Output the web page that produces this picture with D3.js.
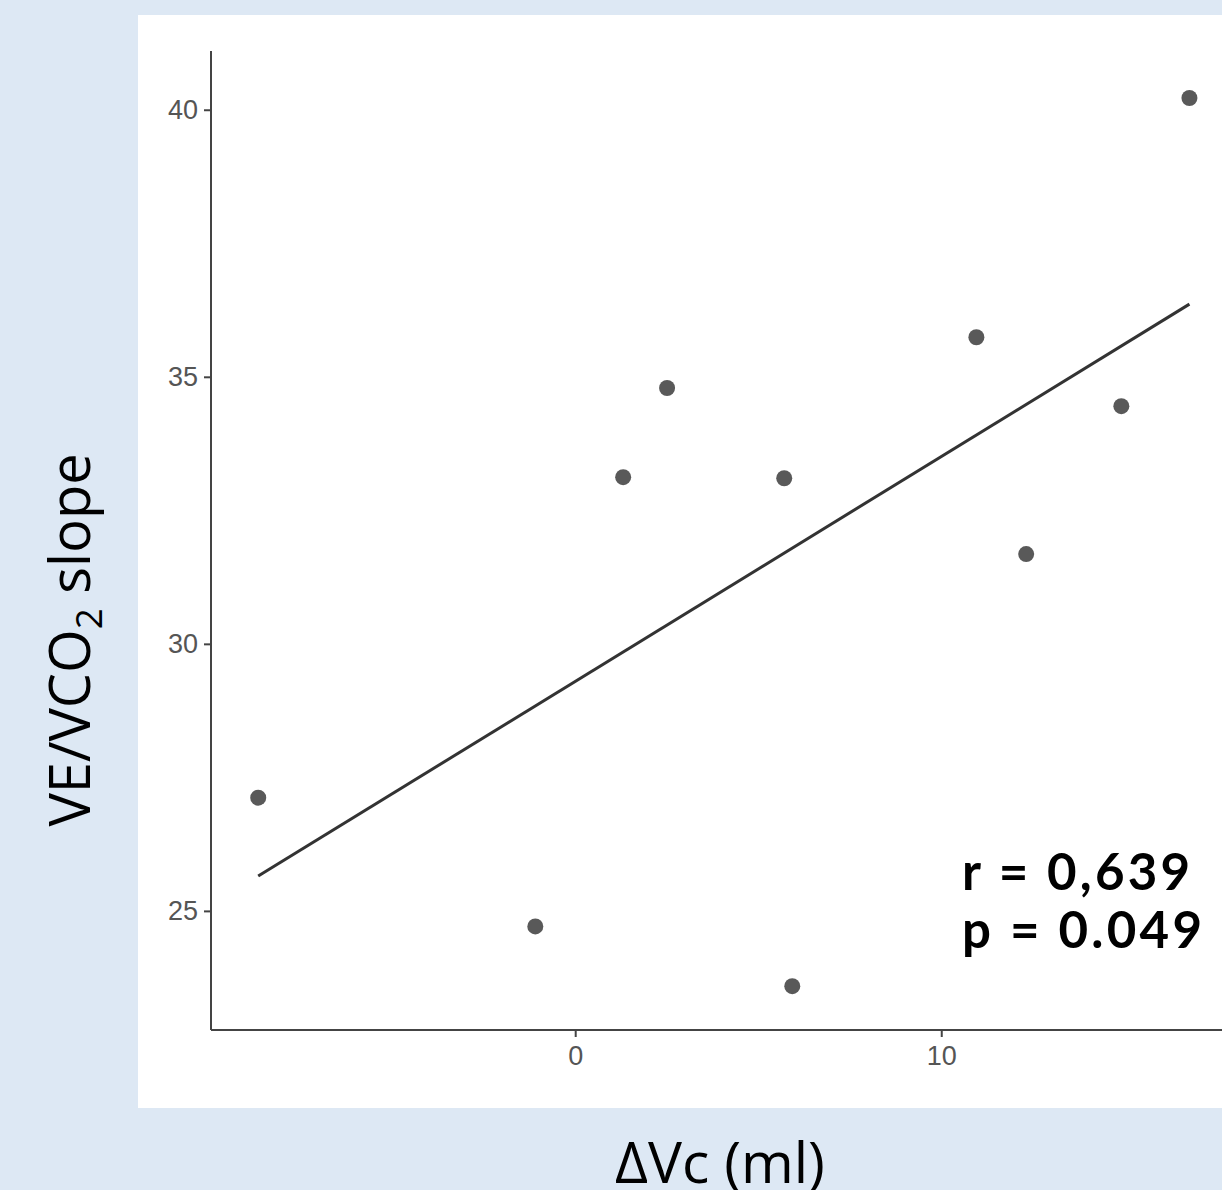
<!DOCTYPE html>
<html><head><meta charset="utf-8">
<script src="https://cdn.jsdelivr.net/npm/d3@7"></script>
<style>html,body{margin:0;padding:0;background:#dde8f4;}</style>
</head><body>
<svg id="c" width="1222" height="1190"></svg>
<script>
const deltaVc = [-8.66, -1.09, 1.31, 2.51, 5.71, 5.93, 10.96, 12.32, 14.92, 16.78];
const veVco2Slope = [27.12, 24.71, 33.12, 34.79, 33.10, 23.59, 35.74, 31.68, 34.45, 40.22];
const xTicks = [0, 10];
const yTicks = [25, 30, 35, 40];
const statLines = ["r = 0,639", "p = 0.049"];

const svg = d3.select("#c");
svg.append("rect").attr("width",1222).attr("height",1190).attr("fill","#dde8f4");
svg.append("rect").attr("x",138).attr("y",15).attr("width",1084).attr("height",1093).attr("fill","#fff");

const x = d3.scaleLinear().domain([-9.95, 17.67]).range([211, 1222]);
const y = d3.scaleLinear().domain([22.77, 41.1]).range([1030, 51]);

const data = deltaVc.map((d,i)=>({x:d,y:veVco2Slope[i]}));
const mx = d3.mean(deltaVc), my = d3.mean(veVco2Slope);
const sxy = d3.sum(data, d=>(d.x-mx)*(d.y-my));
const sxx = d3.sum(data, d=>(d.x-mx)*(d.x-mx));
const b = sxy/sxx, a = my - b*mx;
const ext = d3.extent(deltaVc);

const yAxis = d3.axisLeft(y).tickValues(yTicks).tickSize(7).tickPadding(6);
const gy = svg.append("g").attr("transform","translate(211,0)").call(yAxis);
const xAxis = d3.axisBottom(x).tickValues(xTicks).tickSize(7).tickPadding(9);
const gx = svg.append("g").attr("transform","translate(0,1030)").call(xAxis);
[gx,gy].forEach(g=>{
  g.attr("font-size",null);
  g.select(".domain").attr("stroke","#444").attr("stroke-width",2);
  g.selectAll(".tick line").attr("stroke","#444").attr("stroke-width",2);
  g.selectAll(".tick text").attr("fill","#555").style("font-family","Liberation Sans, Arial, sans-serif").style("font-size","27px");
});
gy.select(".domain").attr("d","M0,51V1030");
gx.select(".domain").attr("d","M211,0H1222");

svg.append("line")
  .attr("x1",x(ext[0])).attr("y1",y(a+b*ext[0]))
  .attr("x2",x(ext[1])).attr("y2",y(a+b*ext[1]))
  .attr("stroke","#333").attr("stroke-width",3);

svg.append("g").selectAll("circle").data(data).join("circle")
  .attr("cx",d=>x(d.x)).attr("cy",d=>y(d.y)).attr("r",8).attr("fill","#595959");

const statW = [228, 240];
svg.append("g").selectAll("text").data(statLines).join("text")
  .attr("x",962).attr("y",(d,i)=>890+i*58)
  .attr("textLength",(d,i)=>statW[i]).attr("lengthAdjust","spacing")
  .style("font-family","Lato, Open Sans, sans-serif").style("font-weight","bold").style("font-size","51px")
  .attr("fill","#000").text(d=>d);

svg.append("text").attr("x",720).attr("y",1183).attr("text-anchor","middle")
  .style("font-family","Open Sans, sans-serif").style("font-size","57px").attr("fill","#000").text("ΔVc (ml)");

const yl = svg.append("text").attr("transform","translate(90,640) rotate(-90)").attr("text-anchor","middle")
  .style("font-family","Open Sans, sans-serif").style("font-size","56px").attr("fill","#000");
yl.append("tspan").text("VE/VCO");
yl.append("tspan").style("font-size","37px").attr("dy",12).text("2");
yl.append("tspan").attr("dy",-12).text(" slope");
</script>
</body></html>
